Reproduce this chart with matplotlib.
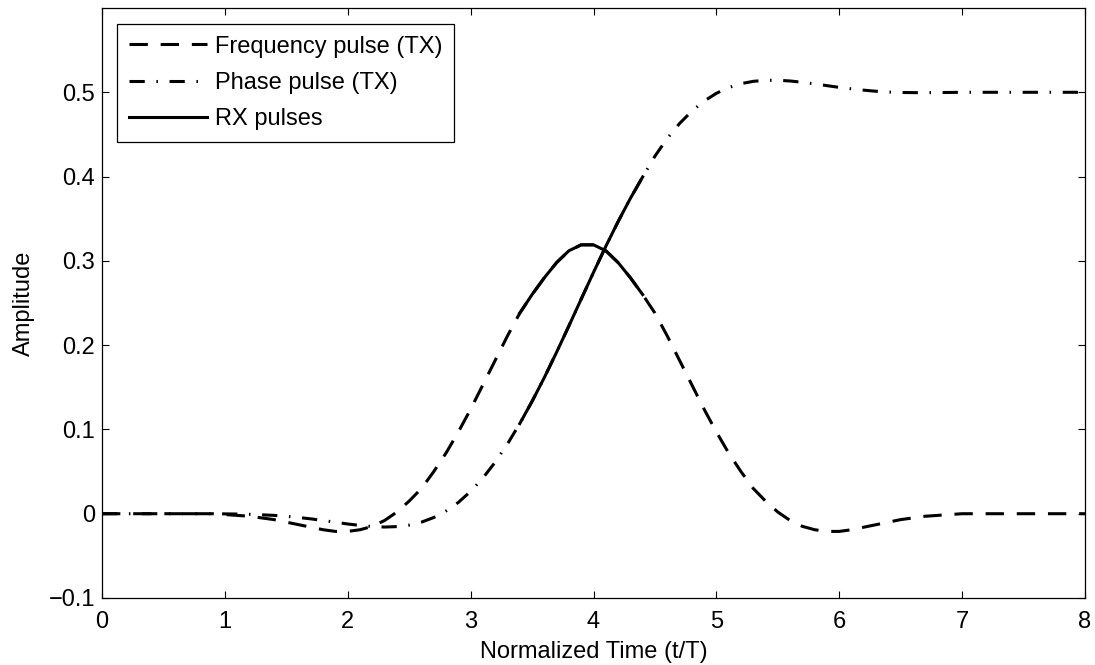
import numpy as np
import matplotlib
matplotlib.use('Agg')
import matplotlib.pyplot as plt

plt.rcParams['font.family'] = ['Liberation Sans', 'DejaVu Sans']

#-----------------------------------------------------------------------------------------#
# samples, step 0.1 in t/T
t = [0.0, 0.1, 0.2, 0.3, 0.4, 0.5, 0.6, 0.7, 0.8, 0.9,
     1.0, 1.1, 1.2, 1.3, 1.4, 1.5, 1.6, 1.7, 1.8, 1.9,
     2.0, 2.1, 2.2, 2.3, 2.4, 2.5, 2.6, 2.7, 2.8, 2.9,
     3.0, 3.1, 3.2, 3.3, 3.4, 3.5, 3.6, 3.7, 3.8, 3.9,
     4.0, 4.1, 4.2, 4.3, 4.4, 4.5, 4.6, 4.7, 4.8, 4.9,
     5.0, 5.1, 5.2, 5.3, 5.4, 5.5, 5.6, 5.7, 5.8, 5.9,
     6.0, 6.1, 6.2, 6.3, 6.4, 6.5, 6.6, 6.7, 6.8, 6.9,
     7.0, 7.1, 7.2, 7.3, 7.4, 7.5, 7.6, 7.7, 7.8, 7.9, 8.0]

freq_pulse = [0, 0, 0, 0, 0, 0, 0, 0, 0, 0,
              -0.001, -0.002, -0.003, -0.005, -0.007, -0.010, -0.013, -0.016, -0.019, -0.021,
              -0.021, -0.019, -0.015, -0.008, 0.002, 0.015, 0.030, 0.050, 0.072, 0.097,
              0.124, 0.153, 0.182, 0.211, 0.238, 0.260, 0.280, 0.298, 0.312, 0.319,
              0.319, 0.312, 0.298, 0.280, 0.260, 0.238, 0.211, 0.182, 0.153, 0.124,
              0.097, 0.072, 0.050, 0.030, 0.015, 0.002, -0.008, -0.015, -0.019, -0.021,
              -0.021, -0.019, -0.016, -0.013, -0.010, -0.007, -0.005, -0.003, -0.002, -0.001,
              0, 0, 0, 0, 0, 0, 0, 0, 0, 0, 0]

phase_pulse = [0, 0, 0, 0, 0, 0, 0, 0, 0, 0,
               -0.0002, -0.0004, -0.0007, -0.0013, -0.0020, -0.0031, -0.0045, -0.0061, -0.0081, -0.0101,
               -0.0122, -0.0139, -0.0153, -0.0158, -0.0153, -0.0135, -0.0100, -0.0045, 0.0033, 0.0134,
               0.0265, 0.0424, 0.0612, 0.0828, 0.1069, 0.1333, 0.1616, 0.1917, 0.2229, 0.2547,
               0.2863, 0.3172, 0.3465, 0.3741, 0.3996, 0.4242, 0.4453, 0.4629, 0.4776, 0.4895,
               0.4988, 0.5056, 0.5102, 0.5130, 0.5142, 0.5143, 0.5134, 0.5119, 0.5100, 0.5079,
               0.5058, 0.5041, 0.5025, 0.5012, 0.5003, 0.4998, 0.4996, 0.4996, 0.4997, 0.4998,
               0.5, 0.5, 0.5, 0.5, 0.5, 0.5, 0.5, 0.5, 0.5, 0.5, 0.5]

rx_start, rx_end = 3.4, 4.4   # part of both pulses seen by the receiver

x_ticks = [0, 1, 2, 3, 4, 5, 6, 7, 8]
y_ticks = [-0.1, 0, 0.1, 0.2, 0.3, 0.4, 0.5]
y_tick_labels = ['\u22120.1', '0', '0.1', '0.2', '0.3', '0.4', '0.5']

#-----------------------------------------------------------------------------------------#

t = np.array(t)
freq_pulse = np.array(freq_pulse)
phase_pulse = np.array(phase_pulse)
rx = (t >= rx_start - 1e-9) & (t <= rx_end + 1e-9)

fig = plt.figure(figsize=(10.95, 6.65), dpi=100)
ax = fig.add_axes([102 / 1095, 67 / 665, 983 / 1095, 590 / 665])

fs = 17
lw = 2.2
ax.plot(t, freq_pulse, color='k', lw=lw, linestyle=(0, (6.0, 4.2)),
        dash_capstyle='butt', label='Frequency pulse (TX)')
ax.plot(t, phase_pulse, color='k', lw=lw, linestyle=(0, (5.0, 3.8, 0.5, 3.8)),
        dash_capstyle='butt', label='Phase pulse (TX)')
ax.plot(t[rx], freq_pulse[rx], color='k', lw=lw, label='RX pulses')
ax.plot(t[rx], phase_pulse[rx], color='k', lw=lw)

ax.set_xlim(0, 8)
ax.set_ylim(-0.1, 0.6)
ax.set_xticks(x_ticks)
ax.set_xticklabels([str(v) for v in x_ticks])
ax.set_yticks(y_ticks)
ax.set_yticklabels(y_tick_labels)
ax.tick_params(direction='in', top=True, right=True, length=5, width=0.8,
               labelsize=fs, colors='k')
ax.tick_params(axis='x', pad=9.5)
ax.tick_params(axis='y', pad=5)
for s in ax.spines.values():
    s.set_linewidth(0.9)

ax.set_xlabel('Normalized Time (t/T)', fontsize=fs)
ax.set_ylabel('Amplitude', fontsize=fs)
ax.xaxis.set_label_coords(0.5, -0.073)
ax.yaxis.set_label_coords(-0.068, 0.5)

leg = ax.legend(loc='upper left', bbox_to_anchor=(0.0153, 0.973), borderaxespad=0,
                fontsize=fs, handlelength=3.3, handletextpad=0.35, labelspacing=0.6,
                borderpad=0.5, fancybox=False, framealpha=1, edgecolor='k')
leg.get_frame().set_linewidth(0.9)

plt.savefig('out.png', dpi=100)
